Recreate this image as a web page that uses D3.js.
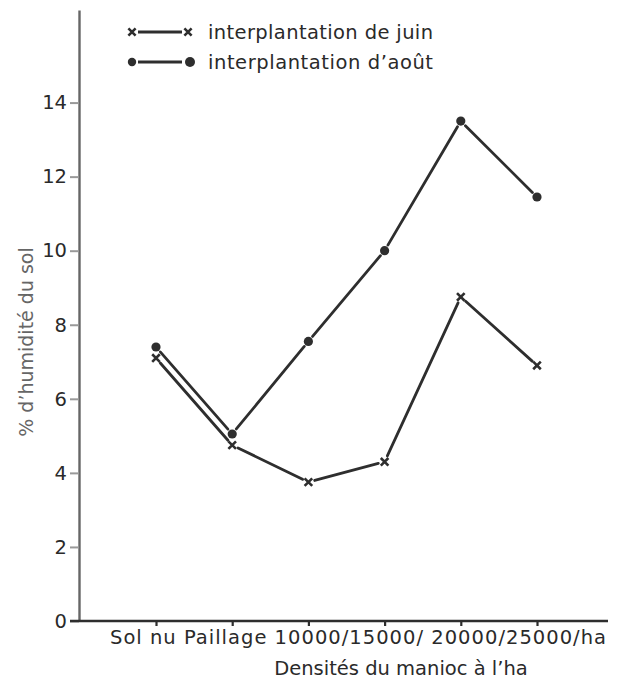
<!DOCTYPE html>
<html>
<head>
<meta charset="utf-8">
<script src="https://cdn.jsdelivr.net/npm/d3@7"></script>
<style>
  body { margin: 0; background: #fff; }
  svg text { font-family: "DejaVu Sans", sans-serif; fill: #2a2a2a; }
</style>
</head>
<body>
<svg width="633" height="682"></svg>
<script>
  // data
  var categories = ["Sol nu", "Paillage", "10000/", "15000/", "20000/", "25000/ha"];
  var juin = [7.1, 4.75, 3.75, 4.3, 8.75, 6.9];
  var aout = [7.4, 5.05, 7.55, 10.0, 13.5, 11.45];
  var yTicks = [0, 2, 4, 6, 8, 10, 12, 14];
  var seriesNames = ["interplantation de juin", "interplantation d\u2019ao\u00fbt"];
  var xAxisLabel = "Densit\u00e9s du manioc \u00e0 l\u2019ha";
  var yAxisLabel = "% d\u2019humidit\u00e9 du sol";

  var svg = d3.select("svg");
  var ink = "#2e2e2e";

  var xScale = d3.scalePoint().domain(categories).range([156, 537]);
  var yScale = d3.scaleLinear().domain([0, 16.5]).range([621, 10]);

  // y axis
  var yAxis = d3.axisLeft(yScale).tickValues(yTicks).tickSize(9).tickSizeOuter(0).tickPadding(3);
  var yAxisGroup = svg.append("g").attr("transform", "translate(79,0)").call(yAxis);
  yAxisGroup.select(".domain").attr("stroke", "#666").attr("stroke-width", 2.4);
  yAxisGroup.selectAll(".tick line").attr("stroke", "#999").attr("stroke-width", 2);
  yAxisGroup.selectAll(".tick text")
    .attr("font-size", 19.5).attr("fill", "#2a2a2a")
    .style("font-family", "DejaVu Sans");

  // x axis
  var xAxis = d3.axisBottom(xScale).tickSize(5).tickSizeOuter(0).tickFormat("");
  var xAxisGroup = svg.append("g").attr("transform", "translate(0," + yScale(0) + ")").call(xAxis);
  xAxisGroup.select(".domain").remove();
  xAxisGroup.selectAll(".tick line").attr("stroke", ink).attr("stroke-width", 2.2);
  xAxisGroup.append("line")
    .attr("x1", 70).attr("x2", 608)
    .attr("stroke", ink).attr("stroke-width", 2.6);

  // category labels set as one running line, like the original typesetting
  svg.append("text")
    .attr("x", 110).attr("y", 644)
    .attr("font-size", 19.5)
    .attr("textLength", 496)
    .attr("lengthAdjust", "spacing")
    .text(categories.slice(0, 3).join(" ") + categories.slice(3, 4) + " " + categories.slice(4).join(""));

  svg.append("text")
    .attr("x", 401).attr("y", 675)
    .attr("text-anchor", "middle")
    .attr("font-size", 19.5)
    .text(xAxisLabel);

  svg.append("text")
    .attr("transform", "translate(33,342) rotate(-90)")
    .attr("text-anchor", "middle")
    .attr("font-size", 19)
    .style("fill", "#666")
    .text(yAxisLabel);

  // series lines, broken near the markers
  var gap = 6.5;
  function segments(values) {
    var pts = values.map(function (v, i) { return [xScale(categories[i]), yScale(v)]; });
    var segs = [];
    for (var i = 0; i < pts.length - 1; i++) {
      var a = pts[i], b = pts[i + 1];
      var dx = b[0] - a[0], dy = b[1] - a[1];
      var len = Math.sqrt(dx * dx + dy * dy);
      var ux = dx / len, uy = dy / len;
      segs.push([[a[0] + ux * gap, a[1] + uy * gap], [b[0] - ux * gap, b[1] - uy * gap]]);
    }
    return segs;
  }
  var line = d3.line();

  [juin, aout].forEach(function (values) {
    svg.append("g").selectAll("path")
      .data(segments(values))
      .enter().append("path")
      .attr("d", line)
      .attr("fill", "none")
      .attr("stroke", ink)
      .attr("stroke-width", 2.8)
      .attr("stroke-linecap", "round");
  });

  function cross(sel, s) {
    sel.append("path")
      .attr("d", "M" + (-s) + "," + (-s) + "L" + s + "," + s + "M" + (-s) + "," + s + "L" + s + "," + (-s))
      .attr("stroke", ink).attr("stroke-width", 2.6);
  }

  svg.append("g").selectAll("g")
    .data(juin)
    .enter().append("g")
    .attr("transform", function (d, i) { return "translate(" + xScale(categories[i]) + "," + yScale(d) + ")"; })
    .each(function () { cross(d3.select(this), 3.8); });

  svg.append("g").selectAll("circle")
    .data(aout)
    .enter().append("circle")
    .attr("cx", function (d, i) { return xScale(categories[i]); })
    .attr("cy", function (d) { return yScale(d); })
    .attr("r", 4.6)
    .attr("fill", ink);

  // legend
  var legend = svg.append("g");
  seriesNames.forEach(function (name, i) {
    var y = 32 + i * 30;
    legend.append("line")
      .attr("x1", 138).attr("x2", 182).attr("y1", y).attr("y2", y)
      .attr("stroke", ink).attr("stroke-width", 2.8);
    if (i === 0) {
      [132, 188].forEach(function (x) {
        cross(legend.append("g").attr("transform", "translate(" + x + "," + y + ")"), 3.6);
      });
    } else {
      [132, 190].forEach(function (x, k) {
        legend.append("circle").attr("cx", x).attr("cy", y).attr("r", k ? 5 : 4.2).attr("fill", ink);
      });
    }
    legend.append("text")
      .attr("x", 208).attr("y", y + 7)
      .attr("font-size", 19.5)
      .attr("textLength", 225)
      .attr("lengthAdjust", "spacing")
      .text(name);
  });
</script>
</body>
</html>
